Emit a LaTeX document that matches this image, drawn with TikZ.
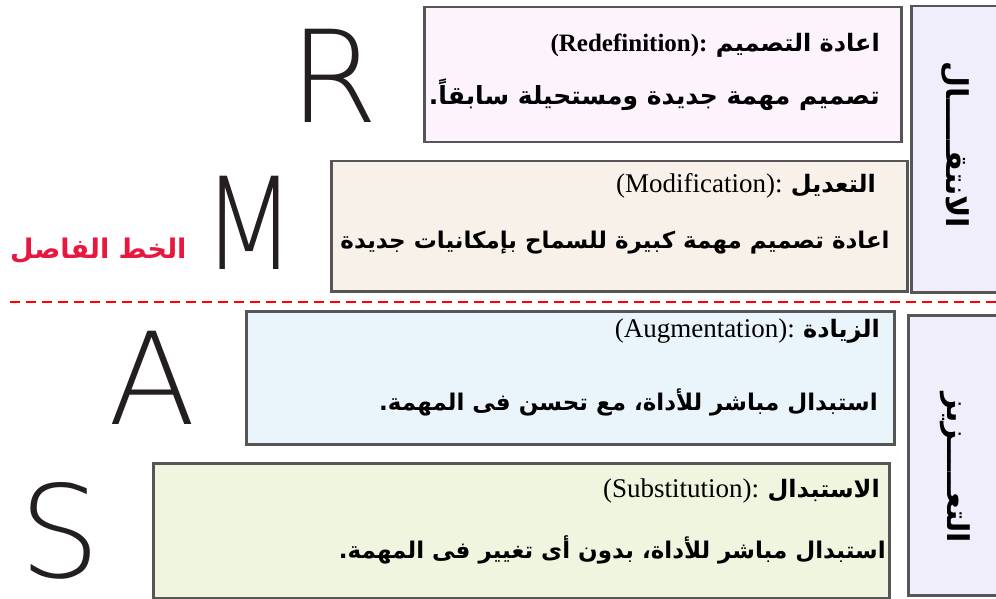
\documentclass[tikz,border=0pt]{standalone}
\usepackage{fontspec}
\setmainfont{Liberation Serif}
\newfontfamily\arabicfont[Script=Arabic]{DejaVu Sans}
\newfontfamily\bigfont{DejaVu Sans ExtraLight}
\TeXXeTstate=1
\definecolor{boxgray}{HTML}{565656}
\definecolor{rfill}{HTML}{FDF3FD}
\definecolor{mfill}{HTML}{F8F1EA}
\definecolor{afill}{HTML}{EAF5FB}
\definecolor{sfill}{HTML}{F0F5DF}
\definecolor{sidefill}{HTML}{F1EEFC}
\definecolor{labelred}{HTML}{E8173F}
\definecolor{dashred}{HTML}{FF0000}
\definecolor{letter}{HTML}{231F20}
\tikzset{
  box/.style={draw=boxgray, line width=2.5pt, inner sep=0pt, anchor=north west},
  ar/.style={font=\arabicfont\bfseries\fontsize{23}{30}\selectfont, inner sep=0pt, anchor=base east},
  arh/.style={font=\arabicfont\bfseries\fontsize{24}{30}\selectfont, inner sep=0pt, anchor=base east},
  lat/.style={font=\fontsize{27}{30}\selectfont, inner sep=0pt, anchor=base east},
  big/.style={font=\bigfont\fontsize{128}{130}\selectfont, inner sep=0pt, anchor=base, text=letter},
  side/.style={font=\arabicfont\bfseries\fontsize{30}{30}\selectfont, inner sep=0pt, rotate=-90},
}
\begin{document}
\begin{tikzpicture}[x=1pt,y=-1pt]
\useasboundingbox (0,0) rectangle (996,599);
\clip (0,0) rectangle (996,599);
% boxes
\node (boxR) [box, fill=rfill, minimum width=477pt, minimum height=135pt] at (423,6) {};
\node (boxM) [box, fill=mfill, minimum width=576pt, minimum height=130pt] at (330,160) {};
\node (boxA) [box, fill=afill, minimum width=648pt, minimum height=133pt] at (245,310) {};
\node (boxS) [box, fill=sfill, minimum width=736pt, minimum height=135pt] at (152,462) {};
\node (sideT) [box, fill=sidefill, minimum width=100pt, minimum height=286pt] at (910,5) {};
\node (sideB) [box, fill=sidefill, minimum width=100pt, minimum height=280pt] at (907,314) {};
% dashed line
\coordinate (dl) at (10,302);
\coordinate (dr) at (996,302);
\draw[dashred, line width=2.5pt, dash pattern=on 10pt off 6pt] (dl) -- (dr);
% big letters
\node (LR) [big] at (334,123) {R};
\node (LM) [big, xscale=0.85] at (249,269) {M};
\node (LA) [big] at (152,424) {A};
\node (LS) [big] at (60,577) {S};
% red label
\node (sep) [font=\arabicfont\bfseries\fontsize{27}{30}\selectfont, text=labelred, inner sep=0pt, anchor=base west] at (10,258) {\beginR الخط الفاصل\endR};
% R box
\node (hR) [arh] at (880,52) {\beginR اعادة التصميم\endR};
\node (lR) [lat, font=\bfseries\fontsize{25}{30}\selectfont] at ([xshift=-8pt]hR.base west) {(Redefinition):};
\node (bR) [ar, font=\arabicfont\bfseries\fontsize{25}{30}\selectfont] at (880,105) {\beginR تصميم مهمة جديدة ومستحيلة سابقاً.\endR};
% M box
\node (hM) [arh] at (876,192) {\beginR التعديل\endR};
\node (lM) [lat] at ([xshift=-8pt]hM.base west) {(Modification):};
\node (bM) [ar] at (890,248) {\beginR اعادة تصميم مهمة كبيرة للسماح بإمكانيات جديدة\endR};
% A box
\node (hA) [arh] at (880,337) {\beginR الزيادة\endR};
\node (lA) [lat] at ([xshift=-8pt]hA.base west) {(Augmentation):};
\node (bA) [ar] at (878,410) {\beginR استبدال مباشر للأداة، مع تحسن فى المهمة.\endR};
% S box
\node (hS) [arh] at (880,497) {\beginR الاستبدال\endR};
\node (lS) [lat] at ([xshift=-8pt]hS.base west) {(Substitution):};
\node (bS) [ar] at (886,558) {\beginR استبدال مباشر للأداة، بدون أى تغيير فى المهمة.\endR};
% side texts
\node (vT) [side] at (955,145) {\beginR الانتقـــــال\endR};
\node (vB) [side] at (955,468) {\beginR التعـــــزيز\endR};
\end{tikzpicture}
\end{document}
